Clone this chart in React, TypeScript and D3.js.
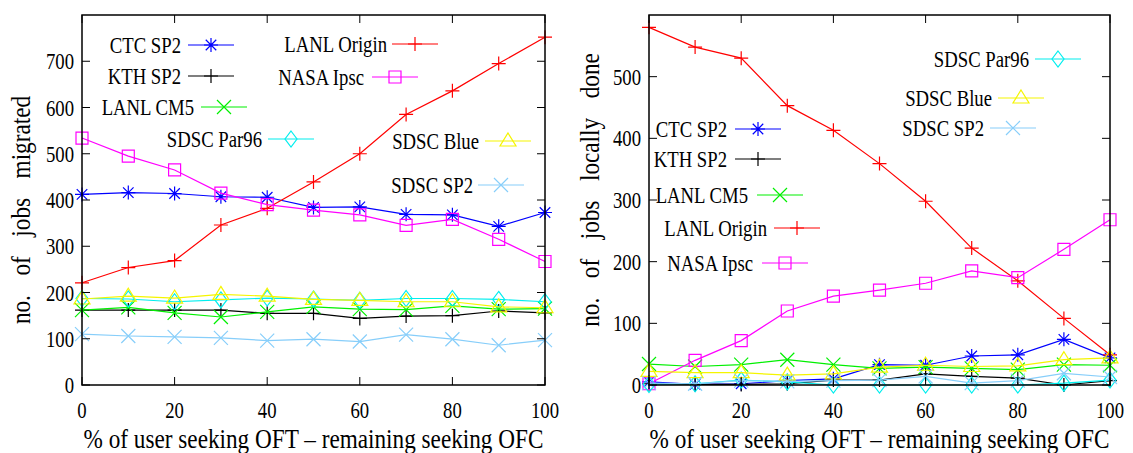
import * as d3 from "d3";

// x positions: % of users seeking OFT
const X_VALUES = [0, 10, 20, 30, 40, 50, 60, 70, 80, 90, 100];

const SERIES_NAMES = [
  "CTC SP2",
  "KTH SP2",
  "LANL CM5",
  "LANL Origin",
  "NASA Ipsc",
  "SDSC Par96",
  "SDSC Blue",
  "SDSC SP2",
];

// no. of jobs migrated
const MIG_CTC = [412, 416, 414, 407, 406, 384, 385, 369, 368, 343, 373];
const MIG_KTH = [162, 162, 162, 162, 155, 155, 144, 149, 150, 160, 156];
const MIG_CM5 = [162, 168, 156, 147, 158, 169, 164, 163, 171, 164, 165];
const MIG_ORIGIN = [221, 254, 269, 346, 382, 439, 500, 585, 636, 695, 752];
const MIG_NASA = [534, 495, 465, 415, 390, 378, 368, 345, 358, 315, 267];
const MIG_PAR96 = [187, 186, 180, 184, 188, 186, 183, 187, 187, 185, 180];
const MIG_BLUE = [186, 192, 188, 196, 192, 185, 183, 180, 180, 169, 167];
const MIG_SP2 = [110, 106, 104, 102, 96, 99, 94, 109, 99, 86, 97];

// no. of jobs locally done
const LOC_CTC = [5, 1, 2, 7, 10, 33, 32, 47, 49, 74, 44];
const LOC_KTH = [2, 1, 1, 2, 8, 8, 18, 14, 11, 0, 7];
const LOC_CM5 = [34, 30, 33, 41, 33, 27, 29, 27, 25, 33, 32];
const LOC_ORIGIN = [580, 548, 530, 453, 413, 359, 298, 222, 169, 108, 49];
const LOC_NASA = [2, 40, 72, 120, 144, 154, 165, 185, 174, 220, 268];
const LOC_PAR96 = [1, 2, 8, 5, 0, 0, 0, 0, 0, 3, 8];
const LOC_BLUE = [22, 20, 20, 16, 18, 29, 32, 30, 31, 41, 44];
const LOC_SP2 = [3, 2, 7, 6, 7, 8, 14, 3, 7, 19, 13];

const X_TICKS = [0, 20, 40, 60, 80, 100];
const MIG_Y_TICKS = [0, 100, 200, 300, 400, 500, 600, 700];
const LOC_Y_TICKS = [0, 100, 200, 300, 400, 500];

const X_LABEL = "% of user  seeking OFT \u2013 remaining seeking OFC";

const STYLE: Record<string, { color: string; shape: string }> = {
  "CTC SP2": { color: "#0000ff", shape: "star" },
  "KTH SP2": { color: "#000000", shape: "plus" },
  "LANL CM5": { color: "#00f000", shape: "cross" },
  "LANL Origin": { color: "#ff0000", shape: "plus" },
  "NASA Ipsc": { color: "#ff00ff", shape: "square" },
  "SDSC Par96": { color: "#00eeee", shape: "diamond" },
  "SDSC Blue": { color: "#f5f500", shape: "triangle" },
  "SDSC SP2": { color: "#87cefa", shape: "cross" },
};

const FONT = "'Liberation Serif', 'DejaVu Serif', serif";

function markerPath(shape: string, x: number, y: number): string {
  const s = 7;
  switch (shape) {
    case "plus":
      return `M${x - s},${y}H${x + s}M${x},${y - s}V${y + s}`;
    case "cross":
      return `M${x - s},${y - s}L${x + s},${y + s}M${x - s},${y + s}L${x + s},${y - s}`;
    case "star":
      return `M${x - s},${y}H${x + s}M${x},${y - s}V${y + s}M${x - s * 0.75},${y - s * 0.75}L${x + s * 0.75},${y + s * 0.75}M${x - s * 0.75},${y + s * 0.75}L${x + s * 0.75},${y - s * 0.75}`;
    case "square":
      return `M${x - 6},${y - 6}H${x + 6}V${y + 6}H${x - 6}Z`;
    case "triangle":
      return `M${x},${y - 8}L${x + 8},${y + 5}L${x - 8},${y + 5}Z`;
    case "diamond":
      return `M${x},${y - 8}L${x + 6},${y}L${x},${y + 8}L${x - 6},${y}Z`;
    default:
      return "";
  }
}

// condensed Times-like text, as in the gnuplot eps
function Label({ x, y, anchor, children, size = 24, sx = 0.78, rotate = 0, wordSpacing = 0 }: any) {
  const rot = rotate ? ` rotate(${rotate})` : "";
  return (
    <text
      transform={`translate(${x},${y})${rot} scale(${sx},1)`}
      textAnchor={anchor}
      fontFamily={FONT}
      fontSize={size}
      wordSpacing={wordSpacing}
      fill="#000"
    >
      {children}
    </text>
  );
}

type Legend = { name: string; textEnd: number; y: number; lineStart: number };

function Panel({
  left,
  right,
  top,
  bottom,
  yMax,
  yTicks,
  series,
  legend,
  yLabel,
  yLabelX,
  yLabelY,
}: any) {
  const x = d3.scaleLinear().domain([0, 100]).range([left, right]);
  const y = d3.scaleLinear().domain([0, yMax]).range([bottom, top]);
  const line = d3
    .line<number>()
    .x((_, i) => x(X_VALUES[i]))
    .y((d) => y(d));
  const tk = 8;

  return (
    <g>
      {series.map((s: { name: string; values: number[] }) => {
        const st = STYLE[s.name];
        return (
          <g key={s.name}>
            <path d={line(s.values) || ""} fill="none" stroke={st.color} strokeWidth={1.2} />
            {s.values.map((v, i) => (
              <path
                key={i}
                d={markerPath(st.shape, x(X_VALUES[i]), y(v))}
                fill="none"
                stroke={st.color}
                strokeWidth={1.2}
              />
            ))}
          </g>
        );
      })}

      {legend.map((l: Legend) => {
        const st = STYLE[l.name];
        const x0 = l.lineStart;
        const x1 = l.lineStart + 46;
        return (
          <g key={l.name}>
            <Label x={l.textEnd} y={l.y + 8} anchor="end">
              {l.name}
            </Label>
            <line x1={x0} x2={x1} y1={l.y} y2={l.y} stroke={st.color} strokeWidth={1.2} />
            <path
              d={markerPath(st.shape, (x0 + x1) / 2, l.y)}
              fill="none"
              stroke={st.color}
              strokeWidth={1.2}
            />
          </g>
        );
      })}

      <rect
        x={left}
        y={top}
        width={right - left}
        height={bottom - top}
        fill="none"
        stroke="#000"
        strokeWidth={1.5}
      />
      {X_TICKS.map((t) => (
        <g key={`x${t}`}>
          <line x1={x(t)} x2={x(t)} y1={bottom} y2={bottom - tk} stroke="#000" />
          <line x1={x(t)} x2={x(t)} y1={top} y2={top + tk} stroke="#000" />
          <Label x={x(t)} y={bottom + 33} anchor="middle">
            {t}
          </Label>
        </g>
      ))}
      {yTicks.map((t: number) => (
        <g key={`y${t}`}>
          <line x1={left} x2={left + tk} y1={y(t)} y2={y(t)} stroke="#000" />
          <line x1={right} x2={right - tk} y1={y(t)} y2={y(t)} stroke="#000" />
          <Label x={left - 8} y={y(t) + 8} anchor="end">
            {t}
          </Label>
        </g>
      ))}
      <Label x={(left + right) / 2} y={bottom + 63} anchor="middle" size={27} sx={0.86}>
        {X_LABEL}
      </Label>
      <Label
        x={yLabelX}
        y={yLabelY}
        anchor="middle"
        rotate={-90}
        size={27}
        sx={0.86}
        wordSpacing={16}
      >
        {yLabel}
      </Label>
    </g>
  );
}

export default function App() {
  const migSeries = [MIG_CTC, MIG_KTH, MIG_CM5, MIG_ORIGIN, MIG_NASA, MIG_PAR96, MIG_BLUE, MIG_SP2].map(
    (values, i) => ({ name: SERIES_NAMES[i], values })
  );
  const locSeries = [LOC_CTC, LOC_KTH, LOC_CM5, LOC_ORIGIN, LOC_NASA, LOC_PAR96, LOC_BLUE, LOC_SP2].map(
    (values, i) => ({ name: SERIES_NAMES[i], values })
  );

  const migLegend: Legend[] = [
    { name: "CTC SP2", textEnd: 181, y: 45, lineStart: 188 },
    { name: "KTH SP2", textEnd: 181, y: 76, lineStart: 188 },
    { name: "LANL CM5", textEnd: 194, y: 107, lineStart: 201 },
    { name: "SDSC Par96", textEnd: 262, y: 139, lineStart: 268 },
    { name: "LANL Origin", textEnd: 387, y: 44, lineStart: 392 },
    { name: "NASA Ipsc", textEnd: 364, y: 77, lineStart: 372 },
    { name: "SDSC Blue", textEnd: 479, y: 141, lineStart: 485 },
    { name: "SDSC SP2", textEnd: 473, y: 185, lineStart: 478 },
  ];
  const locLegend: Legend[] = [
    { name: "SDSC Par96", textEnd: 1029, y: 59, lineStart: 1035 },
    { name: "SDSC Blue", textEnd: 992, y: 98, lineStart: 998 },
    { name: "SDSC SP2", textEnd: 984, y: 128, lineStart: 990 },
    { name: "CTC SP2", textEnd: 727, y: 129, lineStart: 735 },
    { name: "KTH SP2", textEnd: 727, y: 159, lineStart: 735 },
    { name: "LANL CM5", textEnd: 748, y: 195, lineStart: 757 },
    { name: "LANL Origin", textEnd: 767, y: 228, lineStart: 774 },
    { name: "NASA Ipsc", textEnd: 753, y: 263, lineStart: 762 },
  ];

  return (
    <svg
      width={1133}
      height={453}
      style={{ position: "absolute", left: 0, top: 0, background: "#fff" }}
    >
      <rect width={1133} height={453} fill="#fff" />
      <Panel
        left={82}
        right={545}
        top={15}
        bottom={385}
        yMax={800}
        yTicks={MIG_Y_TICKS}
        series={migSeries}
        legend={migLegend}
        yLabel="no. of jobs migrated"
        yLabelX={30}
        yLabelY={210}
      />
      <Panel
        left={649}
        right={1110}
        top={15}
        bottom={385}
        yMax={600}
        yTicks={LOC_Y_TICKS}
        series={locSeries}
        legend={locLegend}
        yLabel="no. of jobs locally done"
        yLabelX={599}
        yLabelY={190}
      />
    </svg>
  );
}
